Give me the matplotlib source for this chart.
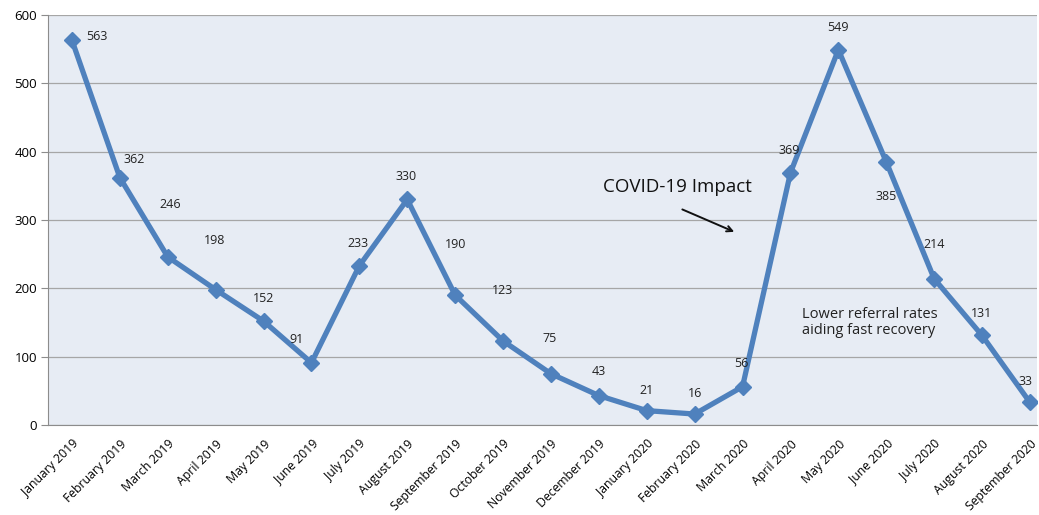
import matplotlib.pyplot as plt
import numpy as np

plt.rcParams['font.family'] = ['Open Sans', 'DejaVu Sans']

months = ['January 2019', 'February 2019', 'March 2019', 'April 2019', 'May 2019',
          'June 2019', 'July 2019', 'August 2019', 'September 2019', 'October 2019',
          'November 2019', 'December 2019', 'January 2020', 'February 2020',
          'March 2020', 'April 2020', 'May 2020', 'June 2020', 'July 2020',
          'August 2020', 'September 2020']
referrals = [563, 362, 246, 198, 152, 91, 233, 330, 190, 123, 75, 43, 21, 16,
             56, 369, 549, 385, 214, 131, 33]
yticks = [0, 100, 200, 300, 400, 500, 600]

# label offsets in pixels (dx, dy) relative to each point
label_off = [(25, 4), (14, 18), (2, 52), (-1, 49), (0, 23), (-15, 23), (-1, 22),
             (-1, 23), (0, 51), (-1, 50), (-1, 35), (0, 24), (0, 20), (0, 21),
             (-1, 23), (-1, 22), (0, 22), (0, -35), (0, 34), (-1, 22), (-4, 21)]

fig = plt.figure(figsize=(10.39, 5.15), dpi=100)
ax = fig.add_axes([0.0462, 0.1748, 0.952, 0.7962])
ax.set_facecolor('#E7ECF4')

x = np.arange(len(months))
ax.plot(x, referrals, color='#4F81BD', lw=3.8, marker='D', ms=8,
        markerfacecolor='#4F81BD', markeredgecolor='#4F81BD', zorder=3)

for xi, v, (dx, dy) in zip(x, referrals, label_off):
    ax.annotate(str(v), (xi, v), xytext=(dx * 0.72, dy * 0.72),
                textcoords='offset points', ha='center', va='center',
                fontsize=9, color='#222222')

ax.set_xlim(-0.5, 20.15)
ax.set_ylim(0, 600)
ax.set_yticks(yticks)
ax.yaxis.grid(True, color='#A6A6A6', lw=0.9)
ax.set_axisbelow(True)
ax.set_xticks(x)
ax.set_xticklabels(months, rotation=45, ha='right', rotation_mode='anchor',
                   fontsize=8.8)
ax.tick_params(axis='x', length=0, pad=9)
ax.tick_params(axis='y', length=5, color='#8C8C8C', labelsize=9.5, pad=3)
for s in ['top', 'right']:
    ax.spines[s].set_visible(False)
for s in ['left', 'bottom']:
    ax.spines[s].set_color('#8C8C8C')

ax.text(12.65, 348, 'COVID-19 Impact', fontsize=13.5, ha='center', va='center',
        color='#111111')
ax.annotate('', xy=(13.88, 281), xytext=(12.69, 317),
            arrowprops=dict(arrowstyle='->', color='#111111', lw=1.4))
ax.text(15.25, 150, 'Lower referral rates\naiding fast recovery', fontsize=10.5,
        ha='left', va='center', color='#222222', linespacing=1.1)

fig.savefig('out.png', dpi=100)
